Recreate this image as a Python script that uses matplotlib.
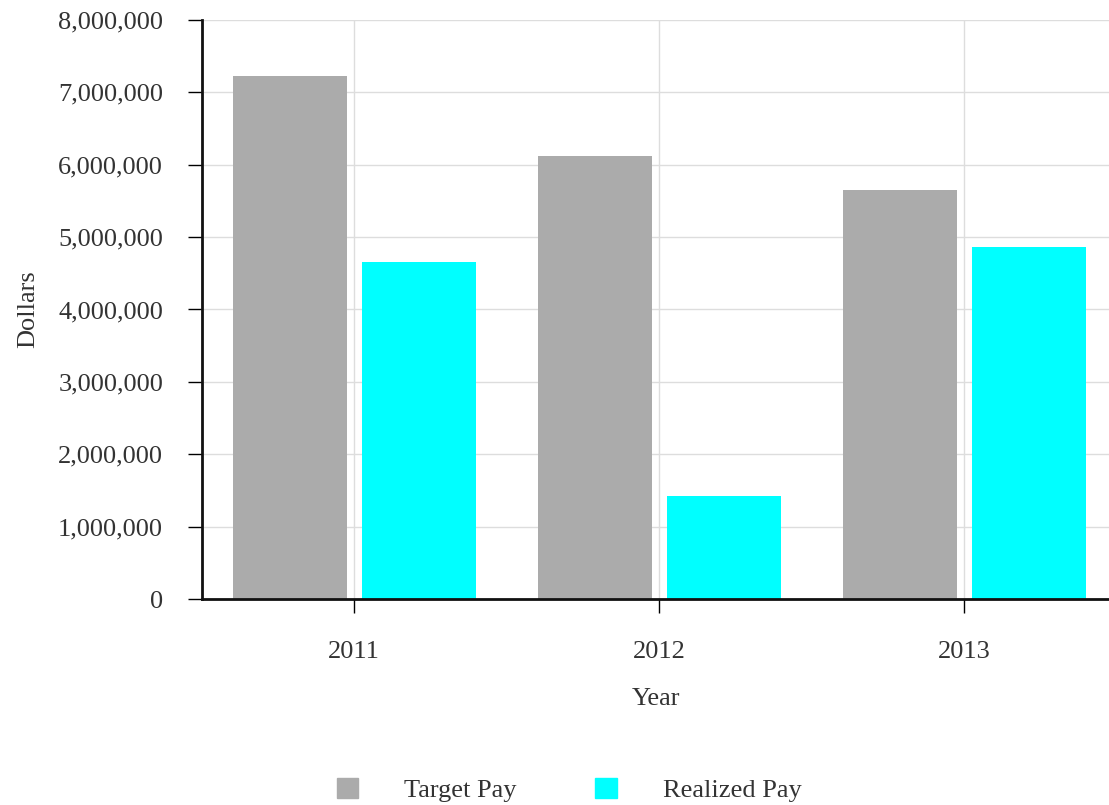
import matplotlib.pyplot as plt
from matplotlib.patches import Patch
from matplotlib.ticker import FuncFormatter

# pay by year, dollars
YEARS = ["2011", "2012", "2013"]
TARGET_PAY = [7220000, 6120000, 5650000]
REALIZED_PAY = [4660000, 1420000, 4866000]

GRAY = "#ababab"
CYAN = "#00ffff"
TEXT = "#333333"

plt.rcParams["font.family"] = ["Liberation Serif", "DejaVu Serif"]

fig = plt.figure(figsize=(11.09, 8.05), dpi=100)
ax = fig.add_axes([0.1822, 0.2559, 0.8178, 0.7193])

x = list(range(len(YEARS)))
width = 0.374
ax.bar([i - 0.21 for i in x], TARGET_PAY, width, color=GRAY, zorder=2)
ax.bar([i + 0.213 for i in x], REALIZED_PAY, width, color=CYAN, zorder=2)

ax.set_xlim(-0.498, 2.475)
ax.set_ylim(0, 8000000)
ax.set_xticks(x)
ax.set_xticklabels(YEARS)
ax.set_yticks(range(0, 8000001, 1000000))
ax.yaxis.set_major_formatter(FuncFormatter(lambda v, p: f"{int(v):,}"))

ax.grid(True, color="#dddddd", linewidth=1, zorder=0)
for side in ("top", "right"):
    ax.spines[side].set_visible(False)
for side in ("left", "bottom"):
    ax.spines[side].set_linewidth(2)
    ax.spines[side].set_color("#111111")

ax.tick_params(axis="y", length=10, width=1, pad=18, labelsize=19, labelcolor=TEXT)
ax.tick_params(axis="x", length=10, width=1, pad=20, labelsize=19, labelcolor=TEXT)

ax.set_ylabel("Dollars", fontsize=19, color=TEXT, labelpad=14)
ax.set_xlabel("Year", fontsize=19, color=TEXT, labelpad=18)

handles = [Patch(color=GRAY, label="Target Pay"), Patch(color=CYAN, label="Realized Pay")]
fig.legend(handles=handles, loc="center", bbox_to_anchor=(0.513, 1 - 790 / 805),
           ncol=2, frameon=False, fontsize=19, handlelength=0.83, handleheight=0.83,
           handletextpad=1.74, columnspacing=2.95, labelcolor=TEXT)

fig.savefig("out.png", dpi=100)
